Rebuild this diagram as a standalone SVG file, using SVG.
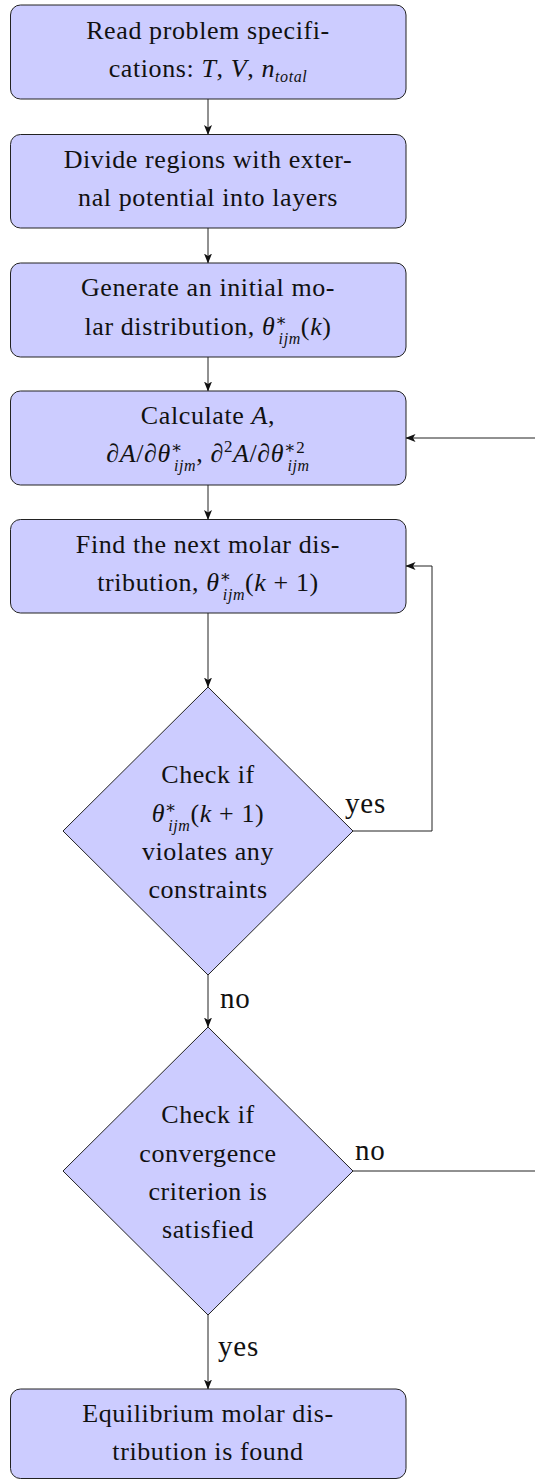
<svg xmlns="http://www.w3.org/2000/svg" width="535" height="1479" viewBox="0 0 535 1479">
<style>
.box{fill:#ccccff;stroke:#222;stroke-width:1}
.t{font-family:'Liberation Serif','DejaVu Serif',serif;font-size:26px;letter-spacing:0.6px;fill:#111;text-anchor:middle}
.m{font-style:italic}
.s{font-size:16px;font-style:italic}
.sr{font-size:17px}
.lbl{font-family:'Liberation Serif','DejaVu Serif',serif;font-size:29px;letter-spacing:0.8px;fill:#111}
.ln{fill:none;stroke:#222;stroke-width:1}
</style>
<defs>
<marker id="ah" viewBox="0 0 10 8" refX="9.5" refY="4" markerWidth="10" markerHeight="8" markerUnits="userSpaceOnUse" orient="auto">
<path d="M0,0 L10,4 L0,8 L2.5,4 z" fill="#111"/>
</marker>
</defs>

<g id="connectors">
<line class="ln" x1="208" y1="99" x2="208" y2="134.5" marker-end="url(#ah)"/>
<line class="ln" x1="208" y1="228" x2="208" y2="263" marker-end="url(#ah)"/>
<line class="ln" x1="208" y1="357" x2="208" y2="391" marker-end="url(#ah)"/>
<line class="ln" x1="208" y1="485" x2="208" y2="519.5" marker-end="url(#ah)"/>
<line class="ln" x1="208" y1="613" x2="208" y2="687" marker-end="url(#ah)"/>
<line class="ln" x1="208" y1="975" x2="208" y2="1027" marker-end="url(#ah)"/>
<line class="ln" x1="208" y1="1315" x2="208" y2="1389" marker-end="url(#ah)"/>
<line class="ln" x1="535" y1="438" x2="406" y2="438" marker-end="url(#ah)"/>
<polyline class="ln" points="353,831 432,831 432,566 406,566" marker-end="url(#ah)"/>
<line class="ln" x1="353" y1="1171" x2="535" y2="1171"/>
<text class="lbl" x="345" y="813">yes</text>
<text class="lbl" x="220" y="1008">no</text>
<text class="lbl" x="355" y="1160">no</text>
<text class="lbl" x="218" y="1356">yes</text>
</g>

<g id="n1">
<rect class="box" x="10.5" y="5" width="395.5" height="94" rx="10"/>
<text class="t" x="208" y="38.5">Read problem specifi-</text>
<text class="t" x="208" y="76.5">cations: <tspan class="m">T</tspan>, <tspan class="m">V</tspan>, <tspan class="m">n</tspan><tspan class="s" dy="5">total</tspan></text>
</g>

<g id="n2">
<rect class="box" x="10.5" y="134.5" width="395.5" height="93.5" rx="10"/>
<text class="t" x="208" y="167.5">Divide regions with exter-</text>
<text class="t" x="208" y="206">nal potential into layers</text>
</g>

<g id="n3">
<rect class="box" x="10.5" y="263" width="395.5" height="94" rx="10"/>
<text class="t" x="208" y="296">Generate an initial mo-</text>
<text class="t" x="208" y="334.5">lar distribution, <tspan class="m">θ</tspan><tspan class="sr" dy="-9">∗</tspan><tspan class="s" dx="-9" dy="18">ijm</tspan><tspan dy="-9">(</tspan><tspan class="m">k</tspan>)</text>
</g>

<g id="n4">
<rect class="box" x="10.5" y="391" width="395.5" height="94" rx="10"/>
<text class="t" x="208" y="423.5">Calculate <tspan class="m">A</tspan>,</text>
<text class="t" x="208" y="462">∂<tspan class="m">A</tspan>/∂<tspan class="m">θ</tspan><tspan class="sr" dy="-9">∗</tspan><tspan class="s" dx="-9" dy="18">ijm</tspan><tspan dy="-9">, ∂</tspan><tspan class="sr" dy="-10">2</tspan><tspan class="m" dy="10">A</tspan>/∂<tspan class="m">θ</tspan><tspan class="sr" dy="-9">∗2</tspan><tspan class="s" dx="-18" dy="18">ijm</tspan></text>
</g>

<g id="n5">
<rect class="box" x="10.5" y="519.5" width="395.5" height="93.5" rx="10"/>
<text class="t" x="208" y="552.5">Find the next molar dis-</text>
<text class="t" x="208" y="591">tribution, <tspan class="m">θ</tspan><tspan class="sr" dy="-9">∗</tspan><tspan class="s" dx="-9" dy="18">ijm</tspan><tspan dy="-9">(</tspan><tspan class="m">k</tspan> + 1)</text>
</g>

<g id="d1">
<polygon class="box" points="208,687 353,831 208,975 63,831"/>
<text class="t" x="208" y="783">Check if</text>
<text class="t" x="208" y="822"><tspan class="m">θ</tspan><tspan class="sr" dy="-9">∗</tspan><tspan class="s" dx="-9" dy="18">ijm</tspan><tspan dy="-9">(</tspan><tspan class="m">k</tspan> + 1)</text>
<text class="t" x="208" y="860">violates any</text>
<text class="t" x="208" y="898">constraints</text>
</g>

<g id="d2">
<polygon class="box" points="208,1027 353,1171 208,1315 63,1171"/>
<text class="t" x="208" y="1123">Check if</text>
<text class="t" x="208" y="1162">convergence</text>
<text class="t" x="208" y="1200">criterion is</text>
<text class="t" x="208" y="1238">satisfied</text>
</g>

<g id="n6">
<rect class="box" x="10.5" y="1389" width="395.5" height="89.5" rx="10"/>
<text class="t" x="208" y="1422">Equilibrium molar dis-</text>
<text class="t" x="208" y="1460">tribution is found</text>
</g>
</svg>
